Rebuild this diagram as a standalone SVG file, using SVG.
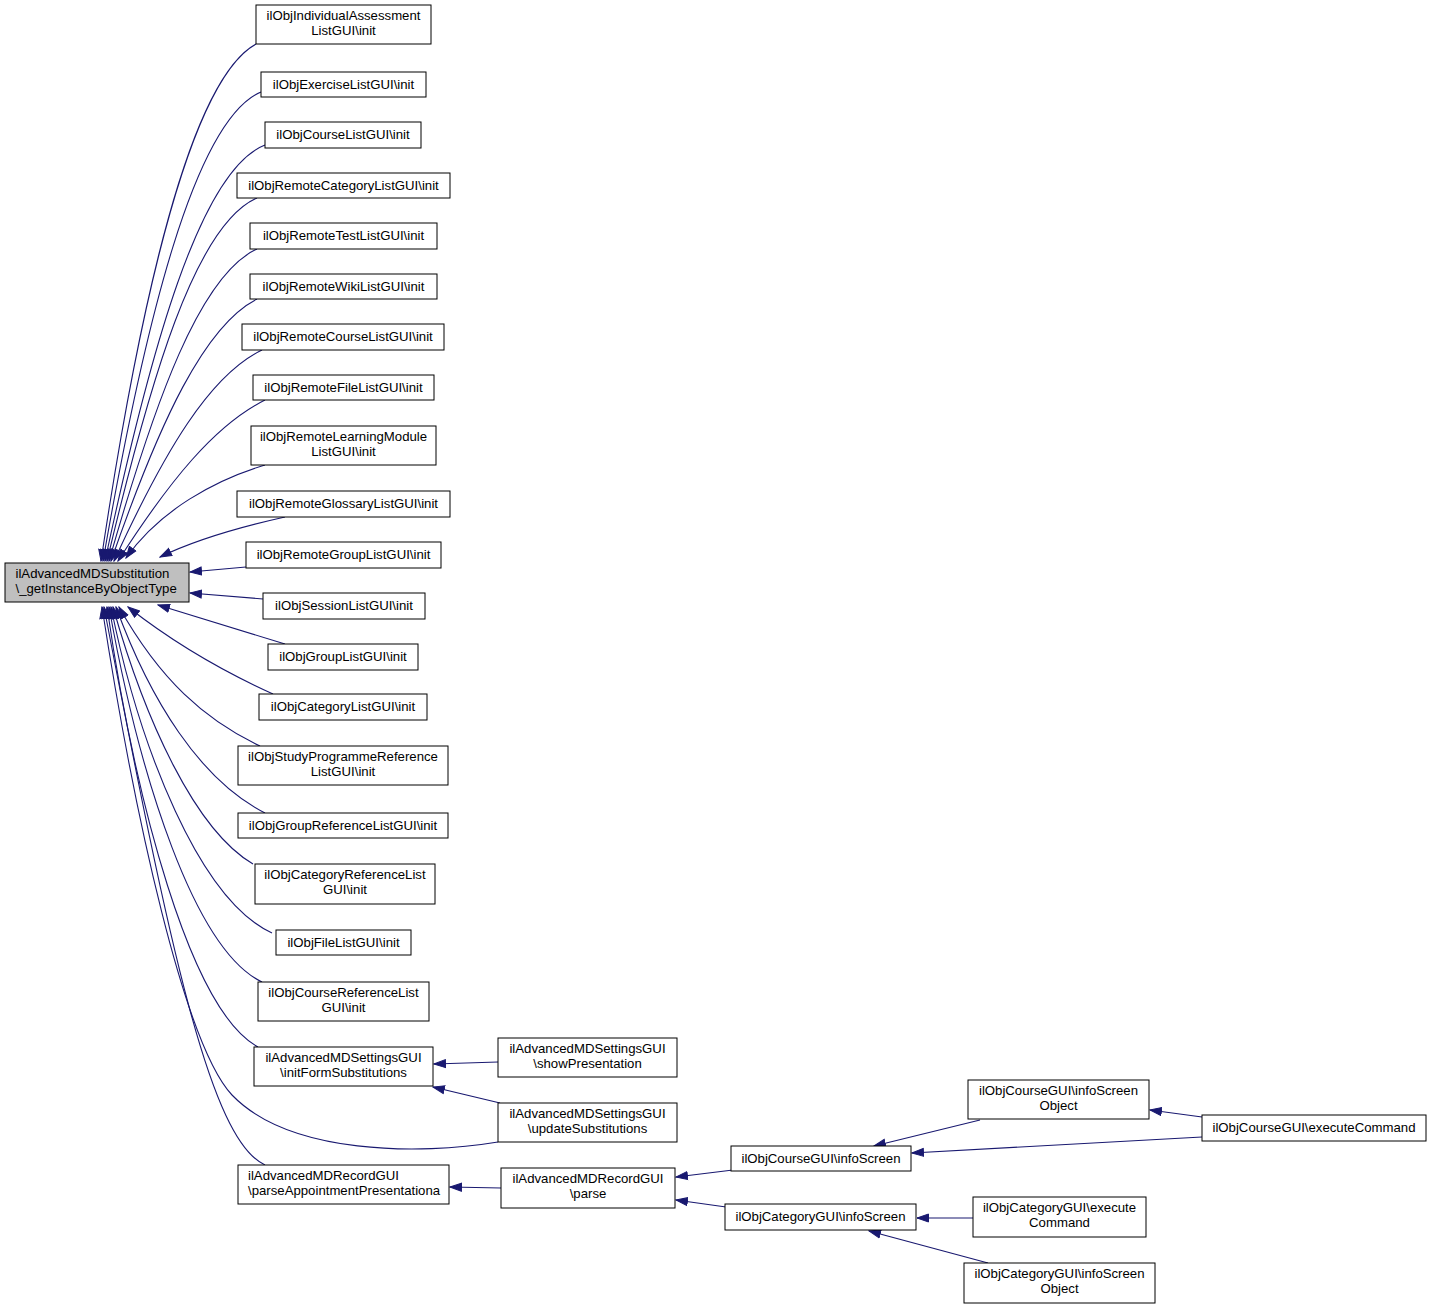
<svg xmlns="http://www.w3.org/2000/svg" width="1432" height="1309" viewBox="0 0 1432 1309">
<defs>
<style>
.n rect{fill:#fff;stroke:#000;stroke-width:1}
.m rect{fill:#bfbfbf;stroke:#000;stroke-width:1}
text{font-family:"Liberation Sans",Arial,sans-serif;font-size:13.2px;fill:#000;text-anchor:middle}
.l{text-anchor:start}
.e path{fill:none;stroke:#191970;stroke-width:1.1;marker-end:url(#a)}
</style>
<marker id="a" markerWidth="13" markerHeight="10" refX="12" refY="5" orient="auto" markerUnits="userSpaceOnUse">
<path d="M0.5,1 L12,5 L0.5,9 z" fill="#191970" stroke="#191970" stroke-width="1"/>
</marker>
</defs>
<rect width="1432" height="1309" fill="#fff"/>
<g class="e" id="edges">
<path d="M256,44 C190,80 140,300 101,561"/>
<path d="M261,92 C195,120 145,320 103,561"/>
<path d="M265,145 C200,170 150,350 105,561"/>
<path d="M257,198 C195,225 150,380 107,561"/>
<path d="M257,249 C200,275 155,400 109,561"/>
<path d="M257,299 C205,325 160,420 111,561"/>
<path d="M262,350 C210,375 165,450 114,561"/>
<path d="M265,400 C215,425 170,480 118,561"/>
<path d="M265,465 C215,480 160,510 126,558"/>
<path d="M285,517 C240,527 195,540 160,557"/>
<path d="M246,567 L190,572"/>
<path d="M263,599 L190,593"/>
<path d="M285,644 C240,630 195,616 158,605"/>
<path d="M273,694 C220,670 170,640 128,607"/>
<path d="M260,746 C205,720 160,680 119,607"/>
<path d="M265,813 C200,780 150,700 116,607"/>
<path d="M253,864 C195,830 145,720 113,607"/>
<path d="M272,933 C200,900 140,750 111,607"/>
<path d="M262,982 C195,950 140,780 109,607"/>
<path d="M258,1047 C190,1010 135,800 107,607"/>
<path d="M265,1165 C210,1140 170,950 104,607"/>
<path d="M498,1142 C420,1155 290,1155 232,1095 C185,1045 135,820 102,607"/>
<path d="M498,1062 L434,1064"/>
<path d="M500,1103 L433,1087"/>
<path d="M501,1188 L450,1187"/>
<path d="M733,1170 L676,1177"/>
<path d="M726,1207 L676,1200"/>
<path d="M980,1120 L874,1146"/>
<path d="M1202,1117 L1150,1110"/>
<path d="M1202,1137 L912,1153"/>
<path d="M973,1218 L917,1218"/>
<path d="M988,1263 L869,1231"/>
</g>
<g id="main" class="m"><rect x="5" y="563" width="184" height="39"/><text class="l"><tspan x="15.5" y="577.5">ilAdvancedMDSubstitution</tspan><tspan x="15.5" y="592.5">\_getInstanceByObjectType</tspan></text></g>
<g id="n1" class="n"><rect x="256" y="5" width="175" height="39"/><text><tspan x="343.5" y="19.5">ilObjIndividualAssessment</tspan><tspan x="343.5" y="34.5">ListGUI\init</tspan></text></g>
<g id="n2" class="n"><rect x="261" y="72" width="165" height="25"/><text x="343.5" y="88.5">ilObjExerciseListGUI\init</text></g>
<g id="n3" class="n"><rect x="265" y="122" width="156" height="26"/><text x="343" y="139">ilObjCourseListGUI\init</text></g>
<g id="n4" class="n"><rect x="237" y="173" width="213" height="25"/><text x="343.5" y="189.5">ilObjRemoteCategoryListGUI\init</text></g>
<g id="n5" class="n"><rect x="250" y="223" width="187" height="26"/><text x="343.5" y="240">ilObjRemoteTestListGUI\init</text></g>
<g id="n6" class="n"><rect x="250" y="274" width="187" height="25"/><text x="343.5" y="290.5">ilObjRemoteWikiListGUI\init</text></g>
<g id="n7" class="n"><rect x="242" y="324" width="202" height="26"/><text x="343" y="341">ilObjRemoteCourseListGUI\init</text></g>
<g id="n8" class="n"><rect x="253" y="375" width="181" height="25"/><text x="343.5" y="391.5">ilObjRemoteFileListGUI\init</text></g>
<g id="n9" class="n"><rect x="251" y="426" width="185" height="39"/><text><tspan x="343.5" y="440.5">ilObjRemoteLearningModule</tspan><tspan x="343.5" y="455.5">ListGUI\init</tspan></text></g>
<g id="n10" class="n"><rect x="237" y="491" width="213" height="26"/><text x="343.5" y="508">ilObjRemoteGlossaryListGUI\init</text></g>
<g id="n11" class="n"><rect x="246" y="542" width="195" height="26"/><text x="343.5" y="559">ilObjRemoteGroupListGUI\init</text></g>
<g id="n12" class="n"><rect x="263" y="593" width="162" height="26"/><text x="344" y="610">ilObjSessionListGUI\init</text></g>
<g id="n13" class="n"><rect x="268" y="644" width="150" height="26"/><text x="343" y="661">ilObjGroupListGUI\init</text></g>
<g id="n14" class="n"><rect x="259" y="694" width="168" height="26"/><text x="343" y="711">ilObjCategoryListGUI\init</text></g>
<g id="n15" class="n"><rect x="238" y="746" width="210" height="39"/><text><tspan x="343" y="760.5">ilObjStudyProgrammeReference</tspan><tspan x="343" y="775.5">ListGUI\init</tspan></text></g>
<g id="n16" class="n"><rect x="238" y="813" width="210" height="25"/><text x="343" y="829.5">ilObjGroupReferenceListGUI\init</text></g>
<g id="n17" class="n"><rect x="255" y="864" width="180" height="40"/><text><tspan x="345" y="879">ilObjCategoryReferenceList</tspan><tspan x="345" y="894">GUI\init</tspan></text></g>
<g id="n18" class="n"><rect x="276" y="930" width="135" height="25"/><text x="343.5" y="946.5">ilObjFileListGUI\init</text></g>
<g id="n19" class="n"><rect x="258" y="982" width="171" height="39"/><text><tspan x="343.5" y="996.5">ilObjCourseReferenceList</tspan><tspan x="343.5" y="1011.5">GUI\init</tspan></text></g>
<g id="n20" class="n"><rect x="254" y="1047" width="179" height="39"/><text><tspan x="343.5" y="1061.5">ilAdvancedMDSettingsGUI</tspan><tspan x="343.5" y="1076.5">\initFormSubstitutions</tspan></text></g>
<g id="n21" class="n"><rect x="238" y="1165" width="211" height="39"/><text class="l"><tspan x="248" y="1179.5">ilAdvancedMDRecordGUI</tspan><tspan x="248" y="1194.5">\parseAppointmentPresentationa</tspan></text></g>
<g id="n22" class="n"><rect x="498" y="1038" width="179" height="39"/><text><tspan x="587.5" y="1052.5">ilAdvancedMDSettingsGUI</tspan><tspan x="587.5" y="1067.5">\showPresentation</tspan></text></g>
<g id="n23" class="n"><rect x="498" y="1103" width="179" height="39"/><text><tspan x="587.5" y="1117.5">ilAdvancedMDSettingsGUI</tspan><tspan x="587.5" y="1132.5">\updateSubstitutions</tspan></text></g>
<g id="n24" class="n"><rect x="501" y="1168" width="174" height="40"/><text><tspan x="588" y="1183">ilAdvancedMDRecordGUI</tspan><tspan x="588" y="1198">\parse</tspan></text></g>
<g id="n25" class="n"><rect x="731" y="1146" width="180" height="25"/><text x="821" y="1162.5">ilObjCourseGUI\infoScreen</text></g>
<g id="n26" class="n"><rect x="725" y="1204" width="191" height="26"/><text x="820.5" y="1221">ilObjCategoryGUI\infoScreen</text></g>
<g id="n27" class="n"><rect x="968" y="1080" width="181" height="39"/><text><tspan x="1058.5" y="1094.5">ilObjCourseGUI\infoScreen</tspan><tspan x="1058.5" y="1109.5">Object</tspan></text></g>
<g id="n28" class="n"><rect x="1202" y="1115" width="224" height="26"/><text x="1314" y="1132">ilObjCourseGUI\executeCommand</text></g>
<g id="n29" class="n"><rect x="973" y="1197" width="173" height="40"/><text><tspan x="1059.5" y="1212">ilObjCategoryGUI\execute</tspan><tspan x="1059.5" y="1227">Command</tspan></text></g>
<g id="n30" class="n"><rect x="964" y="1263" width="191" height="40"/><text><tspan x="1059.5" y="1278">ilObjCategoryGUI\infoScreen</tspan><tspan x="1059.5" y="1293">Object</tspan></text></g>
</svg>
